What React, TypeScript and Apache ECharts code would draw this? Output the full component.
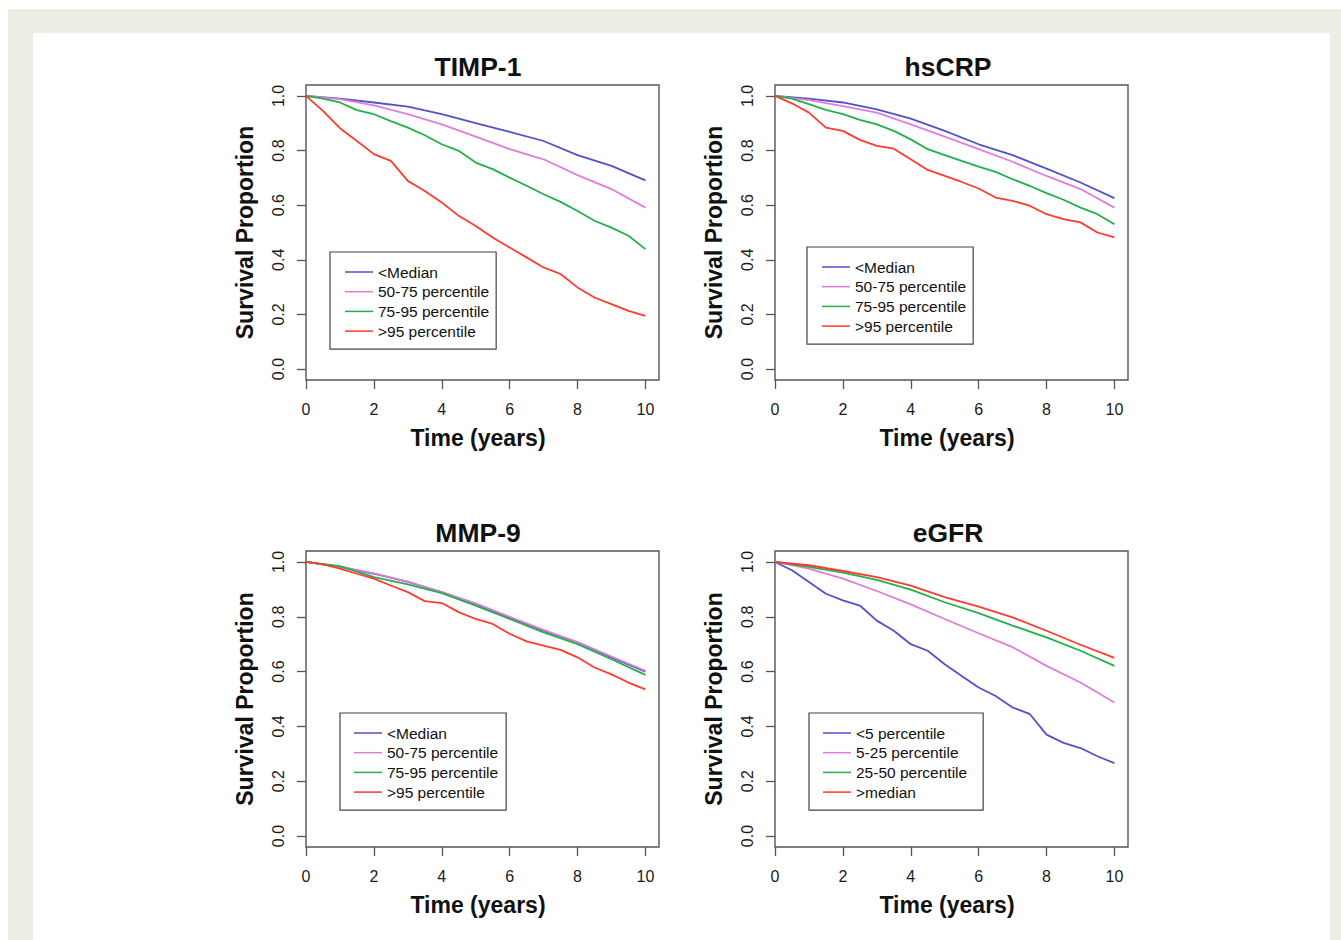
import React, { useEffect, useRef } from "react";
import * as echarts from "echarts";

// ---------- data ----------
const T_YEAR = [0, 1, 2, 3, 4, 5, 6, 7, 8, 9, 10];
const T_HALF = [0, 0.5, 1, 1.5, 2, 2.5, 3, 3.5, 4, 4.5, 5, 5.5, 6, 6.5, 7, 7.5, 8, 8.5, 9, 9.5, 10];

const X_TICKS = [0, 2, 4, 6, 8, 10];
const Y_TICKS = [0, 0.2, 0.4, 0.6, 0.8, 1.0];

const PANEL_TITLES = ["TIMP-1", "hsCRP", "MMP-9", "eGFR"];
const QUANTILE_NAMES = ["<Median", "50-75 percentile", "75-95 percentile", ">95 percentile"];
const EGFR_NAMES = ["<5 percentile", "5-25 percentile", "25-50 percentile", ">median"];

// TIMP-1
const timpMedian = [1.0, 0.99, 0.976, 0.961, 0.933, 0.9, 0.868, 0.835, 0.783, 0.744, 0.691];
const timp5075 = [1.0, 0.988, 0.965, 0.933, 0.896, 0.851, 0.805, 0.768, 0.71, 0.659, 0.591];
const timp7595 = [1.0, 0.99, 0.976, 0.948, 0.933, 0.908, 0.884, 0.856, 0.823, 0.799, 0.756, 0.732, 0.701, 0.671, 0.64, 0.612, 0.579, 0.543, 0.518, 0.488, 0.439];
const timp95 = [1.0, 0.945, 0.882, 0.835, 0.787, 0.762, 0.689, 0.652, 0.61, 0.561, 0.524, 0.482, 0.445, 0.409, 0.372, 0.348, 0.299, 0.262, 0.238, 0.213, 0.195];

// hsCRP
const crpMedian = [1.0, 0.99, 0.976, 0.951, 0.917, 0.872, 0.823, 0.783, 0.734, 0.683, 0.626];
const crp5075 = [1.0, 0.985, 0.963, 0.939, 0.896, 0.851, 0.805, 0.759, 0.707, 0.659, 0.591];
const crp7595 = [1.0, 0.99, 0.97, 0.949, 0.933, 0.912, 0.896, 0.872, 0.841, 0.805, 0.783, 0.762, 0.741, 0.722, 0.695, 0.671, 0.644, 0.62, 0.591, 0.567, 0.53];
const crp95 = [1.0, 0.973, 0.939, 0.884, 0.872, 0.839, 0.817, 0.807, 0.768, 0.729, 0.707, 0.685, 0.661, 0.628, 0.616, 0.598, 0.567, 0.549, 0.537, 0.5, 0.482];

// MMP-9
const mmpMedian = [1.0, 0.982, 0.957, 0.927, 0.89, 0.847, 0.798, 0.749, 0.707, 0.652, 0.6];
const mmp5075 = [1.0, 0.983, 0.958, 0.928, 0.889, 0.849, 0.8, 0.752, 0.708, 0.655, 0.603];
const mmp7595 = [1.0, 0.985, 0.945, 0.918, 0.886, 0.841, 0.792, 0.743, 0.7, 0.645, 0.588];
const mmp95 = [1.0, 0.991, 0.976, 0.957, 0.939, 0.914, 0.89, 0.857, 0.85, 0.817, 0.792, 0.774, 0.738, 0.71, 0.695, 0.679, 0.652, 0.615, 0.59, 0.56, 0.535];

// eGFR
const egfr5 = [1.0, 0.97, 0.927, 0.884, 0.86, 0.841, 0.786, 0.749, 0.7, 0.676, 0.627, 0.584, 0.542, 0.511, 0.469, 0.446, 0.37, 0.34, 0.321, 0.291, 0.266];
const egfr525 = [1.0, 0.976, 0.939, 0.894, 0.845, 0.792, 0.74, 0.689, 0.621, 0.56, 0.487];
const egfr2550 = [1.0, 0.982, 0.961, 0.935, 0.899, 0.853, 0.813, 0.768, 0.725, 0.676, 0.621];
const egfrMedian = [1.0, 0.988, 0.967, 0.945, 0.914, 0.872, 0.837, 0.798, 0.749, 0.698, 0.65];

const COLORS = ["#5252c8", "#e07ddc", "#22b04a", "#ff3a2e"];

const PANELS = [
  { title: PANEL_TITLES[0], names: QUANTILE_NAMES, times: [T_YEAR, T_YEAR, T_HALF, T_HALF], values: [timpMedian, timp5075, timp7595, timp95] },
  { title: PANEL_TITLES[1], names: QUANTILE_NAMES, times: [T_YEAR, T_YEAR, T_HALF, T_HALF], values: [crpMedian, crp5075, crp7595, crp95] },
  { title: PANEL_TITLES[2], names: QUANTILE_NAMES, times: [T_YEAR, T_YEAR, T_YEAR, T_HALF], values: [mmpMedian, mmp5075, mmp7595, mmp95] },
  { title: PANEL_TITLES[3], names: EGFR_NAMES, times: [T_HALF, T_YEAR, T_YEAR, T_YEAR], values: [egfr5, egfr525, egfr2550, egfrMedian] },
];

// ---------- layout ----------
const FONT = "'Liberation Sans', Arial, Helvetica, sans-serif";
const GRIDS = [
  { left: 306, top: 85, width: 353, height: 295 },
  { left: 775, top: 85, width: 353, height: 295 },
  { left: 306, top: 551, width: 353, height: 296 },
  { left: 775, top: 551, width: 353, height: 296 },
];
const TITLE_POS = [
  { x: 478, y: 66.5 },
  { x: 948, y: 66.5 },
  { x: 478, y: 533 },
  { x: 948, y: 533 },
];
const LEGEND_POS = [
  { left: 330, top: 252, padding: [12, 7, 10, 15] },
  { left: 807, top: 247, padding: [12, 7, 10, 15] },
  { left: 340, top: 713, padding: [12, 8, 10, 14] },
  { left: 809, top: 713, padding: [12, 16, 10, 14] },
];

export default function App() {
  const ref = useRef<HTMLDivElement>(null);

  useEffect(() => {
    document.body.style.margin = "0";
    document.body.style.overflow = "hidden";
    if (!ref.current) return;
    const chart = echarts.init(ref.current, undefined, { renderer: "svg" });

    const grid: any[] = [];
    const xAxis: any[] = [];
    const yAxis: any[] = [];
    const series: any[] = [];
    const legend: any[] = [];
    const graphic: any[] = [
      { type: "rect", shape: { x: 8, y: 9, width: 1333, height: 931 }, style: { fill: "#efeee5" }, z: -10 },
      { type: "rect", shape: { x: 33, y: 33, width: 1297, height: 907 }, style: { fill: "#ffffff" }, z: -9 },
    ];

    PANELS.forEach((p, i) => {
      grid.push({
        ...GRIDS[i],
        show: true,
        borderColor: "#555",
        borderWidth: 1.4,
        backgroundColor: "transparent",
        containLabel: false,
      });
      xAxis.push({
        type: "value",
        gridIndex: i,
        position: "bottom",
        min: 0,
        max: 10.4,
        axisLine: { show: false, onZero: false },
        splitLine: { show: false },
        axisTick: { show: true, inside: false, customValues: X_TICKS, length: 9, lineStyle: { color: "#555", width: 1.3 } },
        axisLabel: { customValues: X_TICKS, margin: 21, fontSize: 16, color: "#1a1a1a", fontFamily: FONT },
        name: "Time (years)",
        nameLocation: "middle",
        nameGap: 46,
        nameTextStyle: { fontSize: 23, fontWeight: "bold", color: "#111", fontFamily: FONT, padding: [0, 9, 0, 0] },
      });
      yAxis.push({
        type: "value",
        gridIndex: i,
        position: "left",
        min: -0.04,
        max: 1.04,
        axisLine: { show: false, onZero: false },
        splitLine: { show: false },
        axisTick: { show: true, inside: false, customValues: Y_TICKS, length: 9, lineStyle: { color: "#555", width: 1.3 } },
        axisLabel: {
          customValues: Y_TICKS,
          rotate: 90,
          margin: 20,
          fontSize: 16,
          color: "#1a1a1a",
          fontFamily: FONT,
          formatter: (v: number) => v.toFixed(1),
        },
        name: "Survival Proportion",
        nameLocation: "middle",
        nameGap: 50,
        nameTextStyle: { fontSize: 23, fontWeight: "bold", color: "#111", fontFamily: FONT },
      });
      p.names.forEach((name, k) => {
        series.push({
          type: "line",
          name,
          xAxisIndex: i,
          yAxisIndex: i,
          data: p.times[k].map((t, j) => [t, p.values[k][j]]),
          symbol: "none",
          color: COLORS[k],
          lineStyle: { color: COLORS[k], width: 1.8 },
          silent: true,
        });
      });
      legend.push({
        orient: "vertical",
        left: LEGEND_POS[i].left,
        top: LEGEND_POS[i].top,
        padding: LEGEND_POS[i].padding,
        data: p.names,
        icon: "rect",
        itemWidth: 28,
        itemHeight: 1.5,
        itemGap: 3.7,
        borderColor: "#444",
        borderWidth: 1.2,
        borderRadius: 0,
        backgroundColor: "#fff",
        selectedMode: false,
        textStyle: { fontSize: 15.5, color: "#111", fontFamily: FONT, lineHeight: 15 },
      });
      graphic.push({
        type: "text",
        x: TITLE_POS[i].x,
        y: TITLE_POS[i].y,
        style: {
          text: p.title,
          fontSize: 26.5,
          fontWeight: "bold",
          fontFamily: FONT,
          fill: "#111",
          textAlign: "center",
          textVerticalAlign: "middle",
        },
      });
    });

    chart.setOption({
      animation: false,
      backgroundColor: "#ffffff",
      grid,
      xAxis,
      yAxis,
      series,
      legend,
      graphic,
    });

    return () => chart.dispose();
  }, []);

  return <div ref={ref} style={{ width: 1341, height: 940 }} />;
}
